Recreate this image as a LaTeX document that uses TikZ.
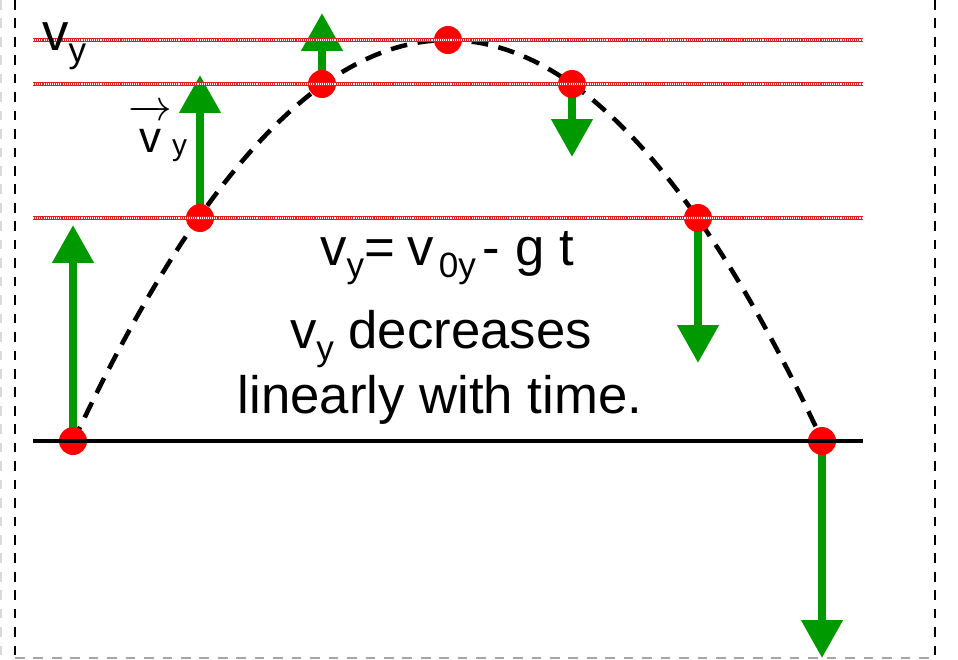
\documentclass[tikz,border=0pt]{standalone}
\usepackage{fontspec}
\setmainfont{Liberation Sans}
\usepackage{amsmath}
\usetikzlibrary{arrows.meta}
\definecolor{vcolor}{HTML}{009900}
\definecolor{dotcolor}{HTML}{FF0000}
\definecolor{levelcolor}{HTML}{E02020}
\newcommand{\lowsub}[1]{\raisebox{-7pt}{\fontsize{20}{20}\selectfont #1}}
\tikzset{
  pathdot/.style={circle, fill=dotcolor, minimum size=0.56cm, inner sep=0pt},
  velarrow/.style={-{Triangle[length=0.76cm,width=0.8cm]}, line width=4.5pt, draw=vcolor},
  levelline/.style={draw=levelcolor, line width=2pt,
    postaction={draw=white, line width=0.6pt, dash pattern=on 0.6pt off 0.6pt}},
  trajline/.style={line width=2.6pt, dash pattern=on 9.5pt off 6pt},
  groundline/.style={line width=2pt},
  frameline/.style={line width=1.7pt, dash pattern=on 5.5pt off 5pt},
  bigtext/.style={font=\fontsize{30}{36}\selectfont, inner sep=0pt}
}

\begin{document}
\begin{tikzpicture}[x=0.02cm, y=-0.02cm]
  \useasboundingbox (0,0) rectangle (958,660);
  % frame
  \draw[frameline, gray!30, line width=1pt] (1,0) -- (1,660);
  \draw[frameline] (15,0) -- (15,658);
  \draw[frameline] (935,0) -- (935,658);
  \draw[frameline, gray!70, line width=1.2pt] (15,658) -- (935,658);
  % positions along the path
  \coordinate (p0) at (73,441);
  \coordinate (p1) at (200,218);
  \coordinate (p2) at (322,84);
  \coordinate (p3) at (448,40);
  \coordinate (p4) at (572,84);
  \coordinate (p5) at (698,218);
  \coordinate (p6) at (822,441);
  \coordinate (t0) at (73,225);
  \coordinate (t1) at (200,75);
  \coordinate (t2) at (322,13);
  \coordinate (t4) at (572,157);
  \coordinate (t5) at (698,363);
  \coordinate (t6) at (822,658);
  % trajectory
  \draw[trajline] plot[domain=73:822, samples=120] (\x, {40+401*((\x-448)/374.5)^2});
  % velocity components
  \draw[velarrow] (p0) -- (t0);
  \draw[velarrow] (p1) -- (t1);
  \draw[velarrow] (p2) -- (t2);
  \draw[velarrow] (p4) -- (t4);
  \draw[velarrow] (p5) -- (t5);
  \draw[velarrow] (p6) -- (t6);
  \node[pathdot] (d0) at (p0) {};
  \node[pathdot] (d1) at (p1) {};
  \node[pathdot] (d2) at (p2) {};
  \node[pathdot] (d3) at (p3) {};
  \node[pathdot] (d4) at (p4) {};
  \node[pathdot] (d5) at (p5) {};
  \node[pathdot] (d6) at (p6) {};
  % levels and ground
  \draw[levelline] (33,40) -- (863,40);
  \draw[levelline] (33,84) -- (863,84);
  \draw[levelline] (33,218) -- (863,218);
  \draw[groundline] (33,441) -- (863,441);
  % labels
  \node[bigtext, anchor=base west] (vylabel) at (42,50) {v\lowsub{y}};
  \node[font=\fontsize{25}{30}\selectfont, inner sep=0pt, anchor=base west] (vveclabel) at (128,152)
    {$\overrightarrow{\mbox{v}\rule{0pt}{0.72em}}$\raisebox{-2pt}{\fontsize{17}{17}\selectfont y}};
  \node[bigtext, anchor=base] (formula) at (447,265)
    {v\lowsub{y}=\kern7pt v\lowsub{\kern3pt 0y}\kern4pt- g t};
  \node[bigtext, anchor=base] (line1) at (441,348) {v\lowsub{y} decreases};
  \node[bigtext, anchor=base] (line2) at (440,413) {linearly with time.};
\end{tikzpicture}
\end{document}
